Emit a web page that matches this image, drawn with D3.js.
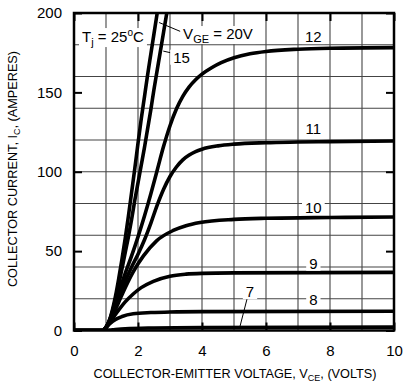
<!DOCTYPE html>
<html>
<head>
<meta charset="utf-8">
<script src="https://cdn.jsdelivr.net/npm/d3@7"></script>
<style>
  body { margin: 0; background: #fff; }
  svg { display: block; font-family: "Liberation Sans", Arial, sans-serif; }
</style>
</head>
<body>
<svg id="chart" width="405" height="387"></svg>
<script>
// tick labels
const xTicks = [0, 2, 4, 6, 8, 10]
const yTicks = [0, 50, 100, 150, 200]

// I_C (A) vs V_CE (V), one array per gate voltage
const vge20 = [[0,0],[0.9,0],[1.0,2],[1.1,6],[1.2,13],[1.3,22],[1.4,33],[1.5,45],[1.6,58],[1.7,72],[1.8,87],[1.9,102],[2.0,118],[2.1,133],[2.2,147],[2.3,161],[2.4,174],[2.5,187],[2.6,200],[2.7,212]]
const vge15 = [[0,0],[0.9,0],[1.0,2],[1.1,6],[1.2,12],[1.3,20],[1.4,29],[1.5,39],[1.6,49],[1.7,59],[1.8,70],[1.9,82],[2.0,93],[2.1,104],[2.2,115],[2.3,127],[2.4,139],[2.5,152],[2.6,164],[2.7,176],[2.8,188],[2.9,200],[3.0,212]]
const vge12 = [[0,0],[0.9,0],[1.0,2],[1.2,11],[1.4,24],[1.6,36],[1.8,47],[2.0,59],[2.2,72],[2.4,86],[2.6,101],[2.8,116],[3.0,129],[3.2,139.5],[3.4,147.5],[3.6,153.5],[3.8,158],[4.0,161.5],[4.3,165.5],[4.6,168.7],[5,171.8],[5.5,174.3],[6,175.8],[7,177.2],[8,177.8],[10,178.2]]
const vge11 = [[0,0],[0.9,0],[1.0,2],[1.2,10],[1.4,21],[1.6,31],[1.8,40],[2.0,48],[2.2,57],[2.4,67.5],[2.6,79],[2.8,89],[3.0,97],[3.2,103],[3.4,107.5],[3.6,110.5],[3.8,112.7],[4.0,114.2],[4.5,116.3],[5,117.4],[6,118.3],[7,118.7],[8,119],[10,119.4]]
const vge10 = [[0,0],[0.9,0],[1.0,2],[1.2,9],[1.4,18],[1.6,27],[1.85,37],[2.17,47],[2.58,56.5],[3.1,63],[3.5,66],[3.94,68],[5,70],[6,70.7],[8,71.2],[10,71.5]]
const vge9 = [[0,0],[0.9,0],[1.0,2],[1.2,7.5],[1.4,13],[1.6,18],[1.85,23],[2.1,27],[2.48,31],[3,34.2],[3.5,35.5],[4,36],[5,36.3],[10,36.6]]
const vge8 = [[0,0],[0.9,0],[1.0,1.8],[1.13,4.5],[1.3,7],[1.5,8.8],[1.85,10.5],[2.4,11.3],[3,11.7],[4,11.9],[10,12.1]]
const vge7 = [[0,0],[0.9,0],[1.2,0.5],[1.6,1.1],[2.5,1.6],[4,1.9],[10,2.1]]

const curves = [vge20, vge15, vge12, vge11, vge10, vge9, vge8, vge7]

// curve labels: text, x (V), y (A)
const curveLabels = [
    {t:"12", x:7.48, y:185},
    {t:"11", x:7.48, y:127},
    {t:"10", x:7.48, y:77.6},
    {t:"9",  x:7.48, y:42.2},
    {t:"8",  x:7.48, y:19.2},
    {t:"7",  x:5.5,  y:24.3},
    {t:"15", x:3.36, y:172}
]
// leader lines [x1,y1,x2,y2] in data units
const leaders = [
    [2.66,194,3.37,188],
    [2.79,176,3.1,174.6],
    [5.19,2.8,5.42,20.9]
]

const svg = d3.select('#chart')

const x = d3.scaleLinear().domain([0, 10]).range([74, 394])
const y = d3.scaleLinear().domain([0, 200]).range([330.5, 13])

// grid
const grid = svg.append('g').attr('stroke', '#444').attr('stroke-width', 1.1)
grid.selectAll('.vx').data(x.ticks(10)).join('line')
    .attr('x1', d => x(d)).attr('x2', d => x(d))
    .attr('y1', y(0)).attr('y2', y(200))
grid.selectAll('.hy').data(y.ticks(8)).join('line')
    .attr('x1', x(0)).attr('x2', x(10))
    .attr('y1', d => y(d)).attr('y2', d => y(d))

// curves
svg.append('clipPath').attr('id', 'clip').append('rect')
    .attr('x', x(0)).attr('y', y(200)).attr('width', x(10) - x(0)).attr('height', y(0) - y(200))

const line = d3.line().x(d => x(d[0])).y(d => y(d[1])).curve(d3.curveMonotoneX)
svg.append('g').attr('clip-path', 'url(#clip)')
    .selectAll('path').data(curves).join('path')
    .attr('d', line)
    .attr('fill', 'none').attr('stroke', '#000').attr('stroke-width', 3.6)
    .attr('stroke-linejoin', 'round')

// leaders
svg.append('g').selectAll('line').data(leaders).join('line')
    .attr('x1', d => x(d[0])).attr('y1', d => y(d[1]))
    .attr('x2', d => x(d[2])).attr('y2', d => y(d[3]))
    .attr('stroke', '#000').attr('stroke-width', 1)

// axes
function styleAxis(g) {
    g.select('.domain').remove()
    g.selectAll('.tick line').attr('stroke', '#000').attr('stroke-width', 2)
    g.selectAll('.tick text').attr('font-size', 15).attr('fill', '#000')
        .attr('font-family', '"Liberation Sans", Arial, sans-serif')
}
svg.append('g').attr('transform', `translate(0,${y(0)})`)
    .call(d3.axisBottom(x).tickValues(xTicks).tickSize(-8).tickPadding(15))
    .call(styleAxis)
svg.append('g').attr('transform', `translate(0,${y(200)})`)
    .call(d3.axisTop(x).tickValues(xTicks).tickSize(-8).tickFormat(''))
    .call(styleAxis)
svg.append('g').attr('transform', `translate(${x(0)},0)`)
    .call(d3.axisLeft(y).tickValues(yTicks).tickSize(-8).tickPadding(12))
    .call(styleAxis)
svg.append('g').attr('transform', `translate(${x(10)},0)`)
    .call(d3.axisRight(y).tickValues(yTicks).tickSize(-8).tickFormat(''))
    .call(styleAxis)

// frame
svg.append('rect')
    .attr('x', x(0)).attr('y', y(200)).attr('width', x(10) - x(0)).attr('height', y(0) - y(200))
    .attr('fill', 'none').attr('stroke', '#000').attr('stroke-width', 2.5)

// labels with white backing
function backed(g) {
    g.each(function () {
        const b = this.getBBox()
        d3.select(this.parentNode).insert('rect', () => this)
            .attr('x', b.x - 3).attr('y', b.y + 1).attr('width', b.width + 6).attr('height', b.height - 2)
            .attr('fill', '#fff')
    })
}
const lab = svg.append('g').attr('font-size', 15)
lab.selectAll('g').data(curveLabels).join('g')
    .append('text')
    .attr('x', d => x(d.x)).attr('y', d => y(d.y))
    .attr('text-anchor', 'middle').attr('dy', '0.35em')
    .text(d => d.t)
    .call(backed)

const tj = lab.append('g').append('text').attr('x', x(0.25)).attr('y', y(181.7))
tj.append('tspan').text('T')
tj.append('tspan').attr('dy', 4).attr('font-size', 11).text('j')
tj.append('tspan').attr('dy', -4).text(' = 25')
tj.append('tspan').attr('dy', -6).attr('font-size', 10).text('o')
tj.append('tspan').attr('dy', 6).text('C')
tj.call(backed)

const vg = lab.append('g').append('text').attr('x', x(3.41)).attr('y', y(183.6))
vg.append('tspan').text('V')
vg.append('tspan').attr('dy', 4).attr('font-size', 11).text('GE')
vg.append('tspan').attr('dy', -4).text(' = 20V')
vg.call(backed)

// axis titles
const xt = svg.append('text').attr('x', (x(0) + x(10)) / 2 + 1).attr('y', 378)
    .attr('text-anchor', 'middle').attr('font-size', 12.7)
xt.append('tspan').text('COLLECTOR-EMITTER VOLTAGE, V')
xt.append('tspan').attr('dy', 3).attr('font-size', 9).text('CE')
xt.append('tspan').attr('dy', -3).text(', (VOLTS)')

const yt = svg.append('text').attr('transform', `translate(17,169) rotate(-90)`)
    .attr('text-anchor', 'middle').attr('font-size', 12.7)
yt.append('tspan').text('COLLECTOR CURRENT, I')
yt.append('tspan').attr('dy', 3).attr('font-size', 9).text('C')
yt.append('tspan').attr('dy', -3).text(', (AMPERES)')
</script>
</body>
</html>
